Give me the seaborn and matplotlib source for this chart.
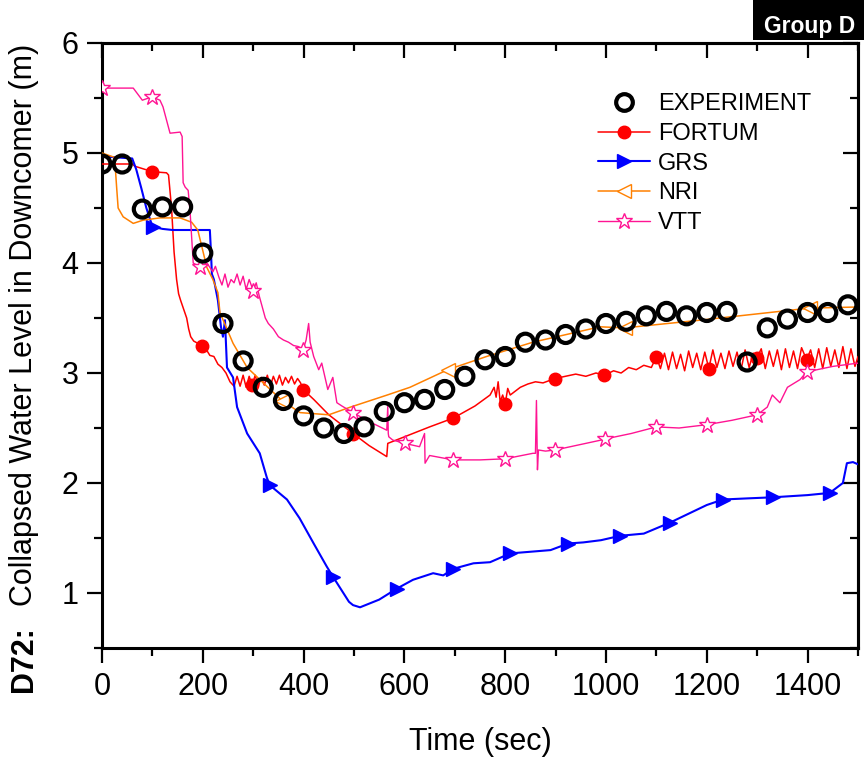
import numpy as np
import pandas as pd
import matplotlib
matplotlib.use("Agg")
import matplotlib.pyplot as plt
import seaborn as sns
from matplotlib.ticker import MultipleLocator
from matplotlib.lines import Line2D
from matplotlib.patches import Rectangle

# ---------------- data ----------------
exp_t = [0, 40, 80, 120, 160, 200, 240, 280, 320, 360, 400, 440, 480, 520, 560, 600,
         640, 680, 720, 760, 800, 840, 880, 920, 960, 1000, 1040, 1080, 1120, 1160,
         1200, 1240, 1280, 1320, 1360, 1400, 1440, 1480]
exp_v = [4.90, 4.90, 4.49, 4.51, 4.51, 4.09, 3.45, 3.11, 2.87, 2.75, 2.61, 2.50, 2.45,
         2.51, 2.65, 2.73, 2.76, 2.85, 2.97, 3.12, 3.15, 3.28, 3.30, 3.35, 3.40, 3.45,
         3.47, 3.52, 3.56, 3.52, 3.55, 3.56, 3.10, 3.41, 3.49, 3.55, 3.55, 3.62]

fortum_t = [0, 60, 65, 100, 128, 132, 138, 143, 148, 152, 156, 162, 168, 172, 176, 182,
            190, 198, 206, 214, 222, 230, 238, 246, 254, 262, 268, 274, 280, 286, 292,
            298, 304, 310, 316, 322, 328, 334, 340, 346, 352, 358, 364, 370, 376, 382,
            388, 394, 399, 420, 450, 498, 530, 565, 567, 600, 650, 697, 740, 770, 778,
            782, 786, 790, 795, 800, 805, 810, 830, 845, 860, 875, 899, 920, 940, 960,
            980, 997, 1015, 1030, 1045, 1060, 1075, 1090, 1100, 1108, 1116, 1124, 1132,
            1140, 1148, 1156, 1164, 1172, 1180, 1188, 1196, 1204, 1212, 1220, 1228,
            1236, 1244, 1252, 1260, 1268, 1276, 1284, 1292, 1300, 1308, 1316, 1324,
            1332, 1340, 1348, 1356, 1364, 1372, 1380, 1388, 1398, 1406, 1414, 1422,
            1430, 1438, 1446, 1454, 1462, 1470, 1478, 1486, 1494, 1500]
fortum_v = [4.90, 4.90, 4.88, 4.83, 4.82, 4.80, 4.50, 4.10, 3.85, 3.72, 3.66, 3.58, 3.50,
            3.40, 3.33, 3.29, 3.27, 3.25, 3.22, 3.16, 3.15, 3.08, 3.05, 3.00, 2.92, 2.88,
            2.97, 2.88, 2.98, 2.87, 2.97, 2.89, 2.98, 2.88, 2.96, 2.89, 2.98, 2.88, 2.97,
            2.90, 2.98, 2.89, 2.96, 2.91, 2.97, 2.90, 2.95, 2.91, 2.85, 2.76, 2.62, 2.45,
            2.34, 2.24, 2.36, 2.42, 2.51, 2.59, 2.70, 2.80, 2.87, 2.78, 2.92, 2.74, 2.80,
            2.72, 2.86, 2.80, 2.87, 2.90, 2.92, 2.91, 2.95, 2.97, 2.99, 2.97, 3.00, 2.98,
            3.02, 3.00, 3.05, 3.03, 3.07, 3.05, 3.15, 3.04, 3.18, 3.03, 3.19, 3.04, 3.17,
            3.02, 3.20, 3.05, 3.18, 3.03, 3.19, 3.04, 3.21, 3.05, 3.18, 3.04, 3.20, 3.06,
            3.19, 3.03, 3.21, 3.05, 3.18, 3.14, 3.22, 3.04, 3.20, 3.06, 3.21, 3.03, 3.22,
            3.05, 3.20, 3.04, 3.23, 3.12, 3.21, 3.05, 3.22, 3.04, 3.23, 3.06, 3.21, 3.05,
            3.24, 3.04, 3.22, 3.06, 3.15]
fortum_mark_t = [100, 198, 298, 399, 498, 697, 800, 899, 997, 1100, 1204, 1300, 1398]

grs_t = [0, 60, 68, 78, 88, 98, 101, 120, 140, 200, 214, 216, 218, 222, 230, 236, 240,
         244, 248, 260, 268, 288, 313, 327, 333, 367, 392, 420, 446, 458, 490, 498, 512,
         550, 585, 617, 657, 677, 697, 737, 770, 810, 890, 925, 955, 990, 1028, 1075,
         1127, 1200, 1232, 1280, 1331, 1400, 1444, 1470, 1478, 1490, 1500]
grs_v = [4.97, 4.95, 4.85, 4.68, 4.50, 4.36, 4.33, 4.31, 4.30, 4.30, 4.30, 4.12, 3.90,
         3.85, 3.66, 3.42, 3.33, 3.48, 3.05, 2.96, 2.69, 2.45, 2.27, 2.05, 1.98, 1.85,
         1.68, 1.45, 1.24, 1.15, 0.92, 0.89, 0.87, 0.94, 1.04, 1.12, 1.18, 1.16, 1.22,
         1.27, 1.28, 1.36, 1.39, 1.45, 1.46, 1.48, 1.52, 1.54, 1.64, 1.80, 1.85, 1.86,
         1.87, 1.89, 1.91, 2.00, 2.18, 2.19, 2.17]
grs_mark_t = [101, 333, 458, 585, 697, 810, 925, 1028, 1127, 1232, 1331, 1444]

nri_t = [0, 25, 29, 32, 42, 62, 82, 115, 155, 178, 190, 198, 208, 220, 230, 234, 260,
         288, 320, 357, 393, 450, 493, 566, 611, 686, 763, 855, 988, 1037, 1186, 1404,
         1500]
nri_v = [5.00, 4.96, 4.69, 4.50, 4.42, 4.36, 4.39, 4.41, 4.41, 4.37, 4.30, 4.15, 3.96,
         3.85, 3.73, 3.55, 3.27, 3.05, 2.91, 2.75, 2.64, 2.62, 2.69, 2.80, 2.87, 3.03,
         3.15, 3.28, 3.42, 3.41, 3.48, 3.59, 3.60]
nri_mark_t = [357, 686, 1037, 1404]

vtt_t = [0, 62, 80, 99, 115, 121, 135, 155, 159, 161, 165, 171, 175, 181, 195, 208,
         220, 225, 232, 238, 244, 250, 256, 262, 268, 274, 280, 286, 292, 300, 306, 312,
         318, 324, 330, 340, 350, 360, 370, 380, 390, 399, 405, 410, 413, 420, 430, 436,
         448, 458, 466, 476, 498, 525, 565, 567, 568, 569, 577, 601, 630, 640, 641, 650,
         697, 750, 800, 855, 860, 862, 864, 866, 880, 899, 990, 998, 1050, 1100, 1145,
         1200, 1250, 1300, 1320, 1330, 1345, 1360, 1385, 1398, 1450, 1500]
vtt_v = [5.59, 5.59, 5.48, 5.51, 5.48, 5.42, 5.18, 5.19, 5.15, 4.73, 4.69, 4.66, 4.45,
         4.00, 3.96, 4.00, 3.92, 3.97, 3.87, 3.80, 3.90, 3.78, 3.85, 3.82, 3.90, 3.80,
         3.88, 3.76, 3.85, 3.75, 3.82, 3.70, 3.60, 3.50, 3.45, 3.40, 3.33, 3.30, 3.28,
         3.25, 3.24, 3.21, 3.30, 3.45, 3.28, 3.15, 3.03, 3.09, 2.85, 2.96, 2.73, 2.70,
         2.64, 2.57, 2.48, 2.70, 2.45, 2.42, 2.39, 2.36, 2.33, 2.45, 2.18, 2.25, 2.21,
         2.21, 2.22, 2.27, 2.27, 2.75, 2.12, 2.30, 2.29, 2.30, 2.39, 2.40, 2.45, 2.51,
         2.50, 2.53, 2.57, 2.62, 2.69, 2.80, 2.73, 2.87, 2.94, 3.01, 3.06, 3.09]
vtt_mark_t = [0, 99, 195, 300, 399, 498, 601, 697, 800, 899, 998, 1100, 1200, 1300, 1398]

x_ticks = [0, 200, 400, 600, 800, 1000, 1200, 1400]
y_ticks = [1, 2, 3, 4, 5, 6]

# ---------------- figure ----------------
sns.set_theme(style="white")
plt.rcParams['font.family'] = ['Liberation Sans', 'DejaVu Sans']
for k in ["text.color", "axes.labelcolor", "xtick.color", "ytick.color", "axes.edgecolor"]:
    plt.rcParams[k] = "black"

fig = plt.figure(figsize=(8.64, 7.63), dpi=100)
ax = fig.add_axes([102/864, 1-648/763, (858-102)/864, (648-43)/763])

def idx(ts, marks):
    arr = np.asarray(ts)
    return [int(np.argmin(np.abs(arr - m))) for m in marks]

series = [
    ("FORTUM", fortum_t, fortum_v, fortum_mark_t, "#FF0000", "o", "#FF0000", 1.1, 9),
    ("GRS", grs_t, grs_v, grs_mark_t, "#0000FF", ">", "#0000FF", 1.5, 10),
    ("NRI", nri_t, nri_v, nri_mark_t, "#FF8000", "<", "white", 1.1, 10),
    ("VTT", vtt_t, vtt_v, vtt_mark_t, "#FF1493", "*", "white", 1.0, 12),
]

handles = []
for name, t, v, mt, col, mk, mfc, lw, ms in series:
    df = pd.DataFrame({"t": t, "v": v})
    sns.lineplot(data=df, x="t", y="v", ax=ax, color=col, lw=lw, marker=mk,
                 markevery=idx(t, mt), markersize=ms, markerfacecolor=mfc,
                 markeredgecolor=col, markeredgewidth=1.0,
                 estimator=None, sort=False, legend=False, zorder=3)
    handles.append(Line2D([], [], color=col, lw=lw, marker=mk, markersize=ms,
                          markerfacecolor=mfc, markeredgecolor=col,
                          markeredgewidth=1.0, label=name))

exp_df = pd.DataFrame({"t": exp_t, "v": exp_v})
sns.scatterplot(data=exp_df, x="t", y="v", ax=ax, s=150, facecolor="none",
                edgecolor="black", linewidth=3.0, zorder=5, legend=False)
exp_handle = Line2D([], [], ls="none", marker="o", markersize=12,
                    markerfacecolor="none", markeredgecolor="black",
                    markeredgewidth=3.0, label="EXPERIMENT")

ax.set_xlim(0, 1500)
ax.set_ylim(0.5, 6)
ax.set_xticks(x_ticks)
ax.set_yticks(y_ticks)
ax.xaxis.set_minor_locator(MultipleLocator(100))
ax.yaxis.set_minor_locator(MultipleLocator(0.5))
ax.set_xlabel("Time (sec)", fontsize=22, labelpad=18)
ax.set_ylabel("")
ax.tick_params(which="major", direction="out", length=11, width=1.6,
               labelsize=22, pad=6, bottom=True, left=True, colors="black")
ax.tick_params(which="minor", direction="out", length=6, width=1.6,
               bottom=True, left=True, colors="black")
for s in ax.spines.values():
    s.set_linewidth(2.2)
    s.set_color("black")

secx = ax.secondary_xaxis("top")
secx.set_xticks(x_ticks)
secx.xaxis.set_minor_locator(MultipleLocator(100))
secx.tick_params(which="major", direction="in", length=11, width=1.6, labeltop=False)
secx.tick_params(which="minor", direction="in", length=6, width=1.6)
secx.spines["top"].set_linewidth(2.2)

secy = ax.secondary_yaxis("right")
secy.set_yticks(y_ticks)
secy.yaxis.set_minor_locator(MultipleLocator(0.5))
secy.tick_params(which="major", direction="in", length=11, width=1.6, labelright=False)
secy.tick_params(which="minor", direction="in", length=6, width=1.6)
secy.spines["right"].set_linewidth(2.2)

leg = ax.legend(handles=[exp_handle] + handles, loc="upper left",
                bbox_to_anchor=(598/864, 1-93/763), bbox_transform=fig.transFigure,
                frameon=False, fontsize=17, handlelength=2.2, handletextpad=0.35,
                labelspacing=0.33, borderpad=0, borderaxespad=0)

# y label (bold prefix + text)
fig.text(24/864, 1-659/763, "D72:", rotation=90, ha="center", va="center",
         fontsize=22, fontweight="bold")
fig.text(24/864, 1-325/763, "Collapsed Water Level in Downcomer (m)", rotation=90,
         ha="center", va="center", fontsize=22)

# Group D tag
fig.patches.append(Rectangle((753/864, 1-40/763), 0.2, 40/763, transform=fig.transFigure,
                             facecolor="black", edgecolor="none", zorder=10))
fig.text(764/864, 1-33/763, "Group D", color="white", fontsize=16.5, fontweight="bold",
         ha="left", va="baseline", zorder=11)

fig.savefig("out.png", dpi=100)
